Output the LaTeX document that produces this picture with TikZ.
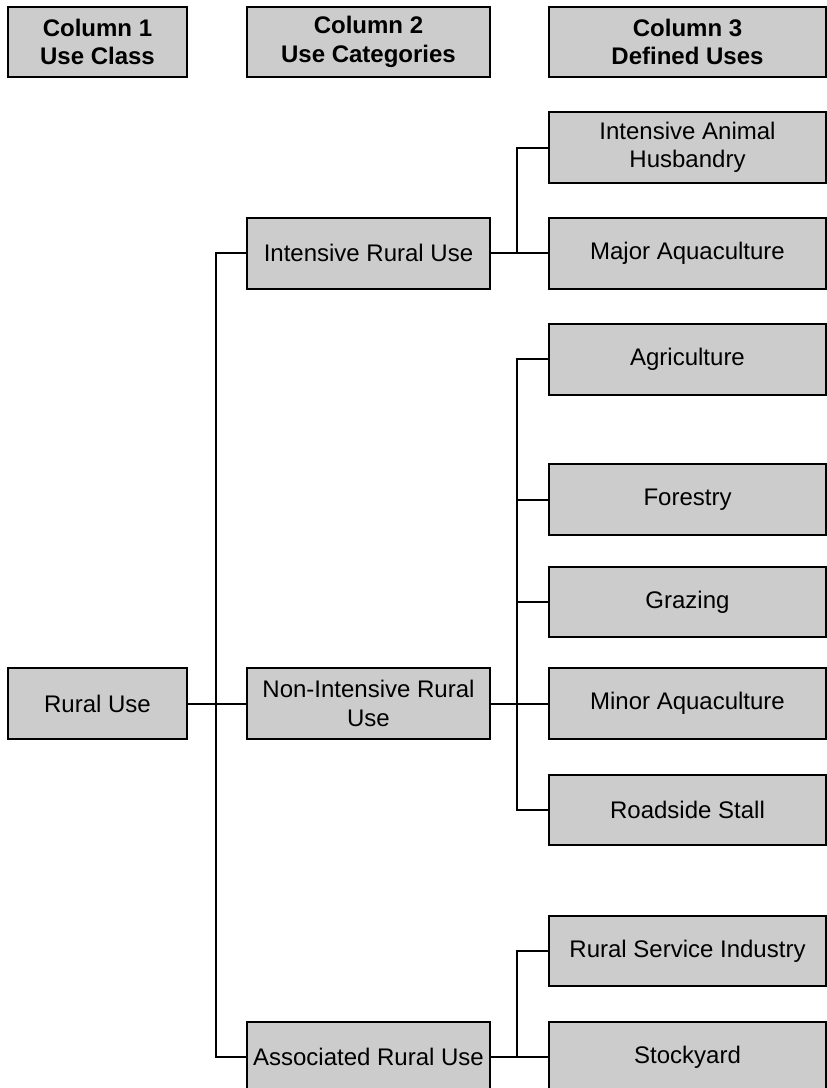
\documentclass[tikz,border=0pt]{standalone}
\usepackage{fontspec}
\setmainfont{Liberation Sans}
\usepackage{tikz}
\usetikzlibrary{positioning}
\definecolor{boxgray}{HTML}{CCCCCC}
\tikzstyle{usebox}=[rectangle, draw=black, line width=2pt, fill=boxgray, inner sep=0pt,
text centered, align=center, font=\fontsize{24}{28.5}\selectfont]
\tikzstyle{colone}=[usebox, minimum width=179pt, minimum height=70pt]
\tikzstyle{coltwo}=[usebox, minimum width=243pt, minimum height=71pt]
\tikzstyle{colthree}=[usebox, minimum width=277pt, minimum height=71pt]
\tikzstyle{link}=[line width=2pt]
\begin{document}
\begin{tikzpicture}[x=1pt, y=-1pt]
        \useasboundingbox (0,0) rectangle (827,1088);
        % headings
        \node (h1)[colone] at (97.5,42) {\textbf{Column 1}\\\textbf{Use Class}};
        \node (h2)[coltwo, minimum height=70pt] at (368.5,42) {\textbf{Column 2}\\\textbf{Use Categories}};
        \node (h3)[colthree, minimum height=70pt] at (687.5,42) {\textbf{Column 3}\\\textbf{Defined Uses}};

        % use class
        \node (rural)[colone, minimum height=71pt] at (97.5,703.5) {Rural Use};

        % use categories
        \node (intrural)[coltwo] at (368.5,253) {Intensive Rural Use};
        \node (nonint)[coltwo] at (368.5,703.5) {Non-Intensive Rural\\Use};
        \node (assoc)[coltwo] at (368.5,1057) {Associated Rural Use};

        % defined uses
        \node (husbandry)[colthree] at (687.5,147.5) {Intensive Animal\\Husbandry};
        \node (majaqua)[colthree] at (687.5,253) {Major Aquaculture};
        \node (agri)[colthree] at (687.5,359) {Agriculture};
        \node (forest)[colthree] at (687.5,499.5) {Forestry};
        \node (grazing)[colthree, minimum height=70pt] at (687.5,602) {Grazing};
        \node (minaqua)[colthree] at (687.5,703.5) {Minor Aquaculture};
        \node (stall)[colthree, minimum height=70pt] at (687.5,810) {Roadside Stall};
        \node (service)[colthree, minimum height=70pt] at (687.5,951) {Rural Service Industry};
        \node (stock)[colthree] at (687.5,1057) {Stockyard};

        % class to categories
        \draw [link] (rural) -- (nonint);
        \draw [link] (intrural.west) -- ++(-30,0) |- (assoc.west);

        % categories to uses
        \draw [link] (intrural) -- (majaqua);
        \draw [link] (husbandry.west) -- ++(-31,0) |- (majaqua.west);
        \draw [link] (nonint) -- (minaqua);
        \draw [link] (agri.west) -- ++(-31,0) |- (stall.west);
        \foreach \n in {forest,grazing}
            \draw [link] (\n.west) -- ++(-31,0);
        \draw [link] (assoc) -- (stock);
        \draw [link] (service.west) -- ++(-31,0) |- (stock.west);
    \end{tikzpicture}
\end{document}
